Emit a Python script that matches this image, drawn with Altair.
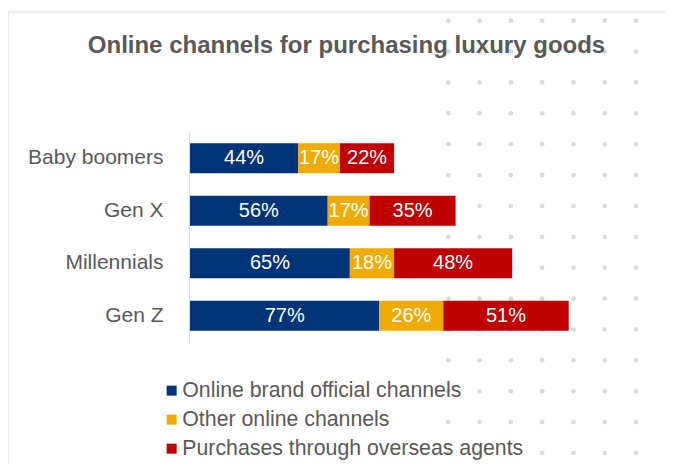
import altair as alt
import pandas as pd

groups = ["Baby boomers", "Gen X", "Millennials", "Gen Z"]
channels = ["Online brand official channels", "Other online channels",
            "Purchases through overseas agents"]
official = [44, 56, 65, 77]
other = [17, 17, 18, 26]
overseas = [22, 35, 48, 51]
colors = ["#003478", "#F0AB00", "#C00000"]
dot_cols = list(range(8))
dot_rows = list(range(15))

rows = []
for i, g in enumerate(groups):
    for j, (ch, vals) in enumerate(zip(channels, [official, other, overseas])):
        rows.append({"group": g, "channel": ch, "value": vals[i], "order": j,
                     "label": f"{vals[i]}%"})
df = pd.DataFrame(rows)
dots = pd.DataFrame([{"c": c, "r": r} for c in dot_cols for r in dot_rows])

FONT = "Liberation Sans"
GRAY = "#595959"
W, H = 657, 452

x_scale = alt.Scale(domain=[0, 154], range=[182, 560.7], nice=False, zero=False)
y_scale = alt.Scale(domain=groups, range=[120, 330], paddingInner=0.4286, paddingOuter=0.2143)

dots_layer = alt.Chart(dots).mark_circle(size=22, color="#D9D9D9", opacity=1).encode(
    x=alt.X("c:Q", scale=alt.Scale(domain=[0, 7], range=[440.3, 659.3], nice=False), axis=None),
    y=alt.Y("r:Q", scale=alt.Scale(domain=[0, 14], range=[8.7, 441], nice=False), axis=None),
)

# frame lines (left and top edges of the card)
frame_left = alt.Chart(pd.DataFrame({"a": [0]})).mark_rule(color="#D9D9D9", strokeWidth=1).encode(
    x=alt.value(0), y=alt.value(0), y2=alt.value(H))
frame_top = alt.Chart(pd.DataFrame({"a": [0]})).mark_rule(color="#D9D9D9", strokeWidth=1).encode(
    x=alt.value(0), x2=alt.value(W), y=alt.value(0))

base = alt.Chart(df).transform_stack(
    stack="value", groupby=["group"], as_=["x0", "x1"], sort=[alt.SortField("order")]
).transform_calculate(mid="(datum.x0 + datum.x1) / 2")

bars = base.mark_bar().encode(
    x=alt.X("x0:Q", scale=x_scale, axis=None),
    x2="x1:Q",
    y=alt.Y("group:N", scale=y_scale, title=None,
            axis=alt.Axis(orient="left", offset=-181, domainColor="#D9D9D9", domainWidth=1,
                          ticks=False, labelPadding=26, labelFontSize=21, labelColor=GRAY,
                          labelFont=FONT, grid=False)),
    color=alt.Color("channel:N", scale=alt.Scale(domain=channels, range=colors),
                    legend=alt.Legend(orient="none", legendX=153, legendY=368, title=None,
                                      symbolType="square", symbolSize=100, symbolStrokeWidth=0,
                                      labelFontSize=21.3, labelColor=GRAY, labelFont=FONT,
                                      labelLimit=0, rowPadding=7, labelOffset=0)),
    order=alt.Order("order:Q"),
)

labels = base.mark_text(color="white", fontSize=20, font=FONT).encode(
    x=alt.X("mid:Q", scale=x_scale, axis=None),
    y=alt.Y("group:N", scale=y_scale, axis=None),
    text="label:N",
)

chart = alt.layer(dots_layer, frame_left, frame_top, bars, labels).resolve_scale(
    x="independent", y="independent"
).properties(
    width=W, height=H,
    autosize=alt.AutoSizeParams(type="none"),
    padding={"left": 0, "top": 4, "right": 0, "bottom": 0},
    title=alt.Title("Online channels for purchasing luxury goods", fontSize=24, font=FONT,
                    fontWeight="bold", color=GRAY, anchor="middle", offset=-65, dx=10,
                    baseline="alphabetic"),
).configure_view(stroke=None)

chart.save("out.html", embed_options={"renderer": "svg", "actions": False})
